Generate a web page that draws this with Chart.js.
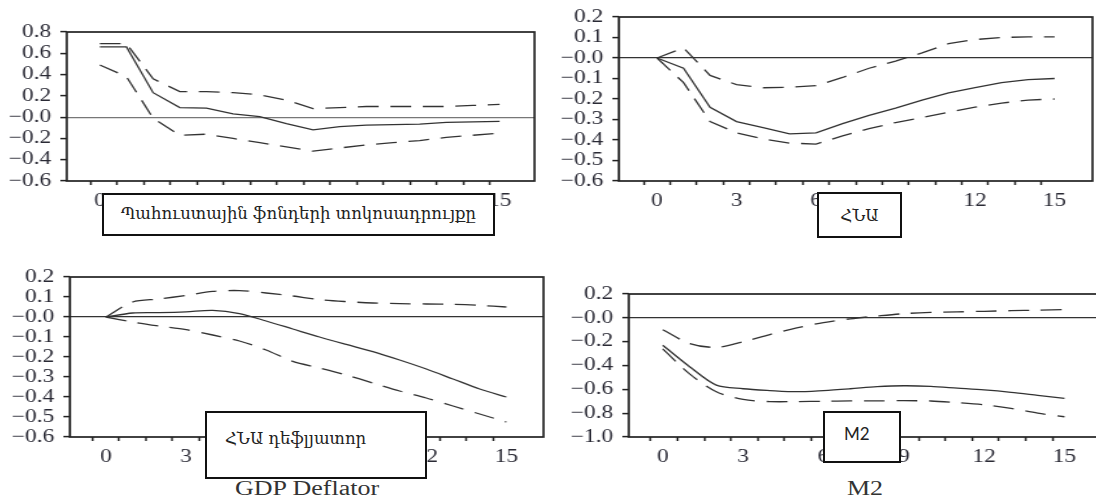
<!DOCTYPE html>
<html>
<head>
<meta charset="utf-8">
<script src="https://cdn.jsdelivr.net/npm/chart.js@4.4.1/dist/chart.umd.min.js"></script>
<style>
body { margin: 0; width: 1096px; height: 500px; overflow: hidden; background: #fff; position: relative; }
canvas { position: absolute; }
.box { position: absolute; border: 2px solid #111; background: #fff; box-sizing: border-box; font-family: "DejaVu Serif", serif; font-size: 16.5px; line-height: 20px; color: #222; }
.caption { position: absolute; font-family: "Liberation Serif", serif; font-size: 20px; line-height: 20px; color: #333; transform: scaleX(1.3); transform-origin: left top; white-space: nowrap; }
</style>
</head>
<body>
<canvas id="reserve"></canvas>
<canvas id="gdp"></canvas>
<canvas id="deflator"></canvas>
<canvas id="money"></canvas>

<div class="box" style="left:102px; top:193px; width:393px; height:43px; padding-top:9px; text-align:center;">Պահուստային ֆոնդերի տոկոսադրույքը</div>
<div class="box" style="left:817px; top:192px; width:85px; height:46px; padding-top:12px; text-align:center;">ՀՆԱ</div>
<div class="caption" style="left:235px; top:478px;">GDP Deflator</div>
<div class="caption" style="left:847px; top:478px;">M2</div>
<div class="box" style="left:205px; top:411px; width:222px; height:68px; padding:16px 0 0 18px;">ՀՆԱ դեֆլյատոր</div>
<div class="box" style="left:823px; top:411px; width:78px; height:52px; padding:11px 0 0 19px; font-family:Lato, sans-serif; font-size:17px;">M2</div>

<script>
const steps = [0, 1, 2, 3, 4, 5, 6, 7, 8, 9, 10, 11, 12, 13, 14, 15]
const xLabelSteps = [0, 3, 6, 9, 12, 15]

// reserve rate shock -> reserve rate
const reserveIrf   = [0.66, 0.66, 0.23, 0.09, 0.085, 0.03, 0.005, -0.06, -0.12, -0.09, -0.075, -0.07, -0.065, -0.05, -0.045, -0.04]
const reserveUpper = [0.69, 0.69, 0.36, 0.24, 0.24, 0.23, 0.21, 0.16, 0.08, 0.09, 0.10, 0.10, 0.10, 0.10, 0.11, 0.12]
const reserveLower = [0.49, 0.38, -0.01, -0.17, -0.16, -0.20, -0.24, -0.28, -0.32, -0.29, -0.26, -0.24, -0.22, -0.19, -0.17, -0.15]

// GDP
const gdpIrf   = [0, -0.05, -0.24, -0.31, -0.34, -0.37, -0.365, -0.32, -0.28, -0.245, -0.205, -0.17, -0.145, -0.12, -0.105, -0.10]
const gdpUpper = [0, 0.05, -0.085, -0.13, -0.145, -0.143, -0.135, -0.095, -0.05, -0.015, 0.025, 0.07, 0.09, 0.10, 0.103, 0.103]
const gdpLower = [0, -0.12, -0.31, -0.365, -0.395, -0.415, -0.42, -0.38, -0.345, -0.315, -0.29, -0.265, -0.24, -0.22, -0.205, -0.20]

// GDP deflator
const deflatorIrf   = [0, 0.02, 0.022, 0.026, 0.033, 0.017, -0.02, -0.06, -0.10, -0.137, -0.173, -0.215, -0.26, -0.31, -0.36, -0.40]
const deflatorUpper = [0, 0.075, 0.09, 0.108, 0.128, 0.132, 0.12, 0.105, 0.087, 0.077, 0.07, 0.067, 0.065, 0.063, 0.058, 0.05]
const deflatorLower = [0, -0.025, -0.045, -0.063, -0.09, -0.12, -0.165, -0.222, -0.255, -0.29, -0.33, -0.37, -0.405, -0.445, -0.485, -0.525]

// M2
const m2Irf   = [-0.23, -0.41, -0.565, -0.595, -0.61, -0.62, -0.61, -0.595, -0.578, -0.57, -0.575, -0.59, -0.605, -0.625, -0.65, -0.675]
const m2Upper = [-0.10, -0.215, -0.248, -0.20, -0.14, -0.085, -0.04, -0.008, 0.015, 0.035, 0.045, 0.05, 0.055, 0.06, 0.065, 0.07]
const m2Lower = [-0.26, -0.47, -0.62, -0.685, -0.703, -0.703, -0.70, -0.697, -0.697, -0.695, -0.698, -0.712, -0.73, -0.76, -0.80, -0.83]

// the source figure is stretched sideways, so each canvas is drawn narrow and widened by css
const STRETCH = 1.3
const AXIS_W = 46, AXIS_H = 34, PAD_TOP = 10, PAD_RIGHT = 5
const textColor = '#2a2a35'
const serif = { family: 'Liberation Serif', size: 18 }

const frame = {
    id: 'frame',
    afterDraw(chart) {
        const a = chart.chartArea, ctx = chart.ctx
        ctx.save()
        ctx.strokeStyle = '#222'
        ctx.lineWidth = 1.7
        ctx.strokeRect(a.left, a.top, a.right - a.left, a.bottom - a.top)
        ctx.restore()
    }
}

function fmtY(v) {
    if (Math.abs(v) < 1e-9) return '\u22120.0'
    return (v < 0 ? '\u2212' : '') + Math.abs(v).toFixed(1)
}

function panel(id, area, xMin, xMax, yMin, yMax, yStep, lines, tension, zeroColor, tickShift) {
    const cv = document.getElementById(id)
    const w = Math.round((area.right - area.left) / STRETCH) + AXIS_W + PAD_RIGHT
    const h = area.bottom - area.top + PAD_TOP + AXIS_H
    cv.width = w
    cv.height = h
    cv.style.width = (w * STRETCH) + 'px'
    cv.style.height = h + 'px'
    cv.style.left = (area.left - AXIS_W * STRETCH) + 'px'
    cv.style.top = (area.top - PAD_TOP) + 'px'

    return new Chart(cv, {
        type: 'line',
        data: {
            datasets: lines.map((vals, i) => ({
                data: vals.map((v, k) => ({ x: steps[k], y: v })),
                borderColor: '#333',
                borderWidth: 1.3,
                borderDash: i == 0 ? [] : [16, 9],
                pointRadius: 0,
                tension: tension,
                fill: false
            }))
        },
        options: {
            responsive: false,
            animation: false,
            events: [],
            layout: { padding: { top: PAD_TOP, right: PAD_RIGHT, left: 0, bottom: 0 } },
            plugins: { legend: { display: false }, tooltip: { enabled: false } },
            scales: {
                x: {
                    type: 'linear',
                    min: xMin,
                    max: xMax,
                    afterFit: s => { s.height = AXIS_H; s.paddingLeft = 0; s.paddingRight = 0 },
                    afterBuildTicks: s => {
                        const t = []
                        steps.forEach(k => {
                            t.push({ value: k + tickShift })
                            if (xLabelSteps.includes(k)) t.push({ value: k })
                        })
                        s.ticks = t
                    },
                    border: { display: false },
                    grid: {
                        drawOnChartArea: false,
                        tickLength: 4,
                        tickWidth: 1.5,
                        tickColor: c => Number.isInteger(c.tick.value) ? 'rgba(0,0,0,0)' : '#222'
                    },
                    ticks: {
                        autoSkip: false,
                        maxRotation: 0,
                        padding: 5,
                        color: textColor,
                        font: serif,
                        callback: v => Number.isInteger(v) ? String(v) : ''
                    }
                },
                y: {
                    min: yMin,
                    max: yMax,
                    afterFit: s => { s.width = AXIS_W; s.paddingTop = 0; s.paddingBottom = 0 },
                    border: { display: false },
                    grid: {
                        tickLength: 5,
                        tickWidth: 1.5,
                        tickColor: '#222',
                        lineWidth: 1.2,
                        color: c => Math.abs(c.tick.value) < 1e-9 ? zeroColor : 'rgba(0,0,0,0)'
                    },
                    ticks: {
                        autoSkip: false,
                        stepSize: yStep,
                        padding: 7,
                        color: textColor,
                        font: serif,
                        callback: v => fmtY(v)
                    }
                }
            }
        },
        plugins: [frame]
    })
}

const reserveChart = panel('reserve', { left: 67, top: 32, right: 535, bottom: 181 }, -1.24, 16.31, -0.6, 0.8, 0.2,
    [reserveIrf, reserveUpper, reserveLower], 0, '#777', -0.35)
const gdpChart = panel('gdp', { left: 619, top: 17, right: 1092, bottom: 181 }, -1.44, 16.43, -0.6, 0.2, 0.1,
    [gdpIrf, gdpUpper, gdpLower], 0, '#333', -0.5)
const deflatorChart = panel('deflator', { left: 70, top: 277, right: 543, bottom: 437 }, -1.35, 16.39, -0.6, 0.2, 0.1,
    [deflatorIrf, deflatorUpper, deflatorLower], 0.3, '#333', -0.5)
const m2Chart = panel('money', { left: 629, top: 294, right: 1110, bottom: 437 }, -1.27, 16.68, -1.0, 0.2, 0.2,
    [m2Irf, m2Upper, m2Lower], 0.3, '#333', -0.45)
</script>
</body>
</html>
